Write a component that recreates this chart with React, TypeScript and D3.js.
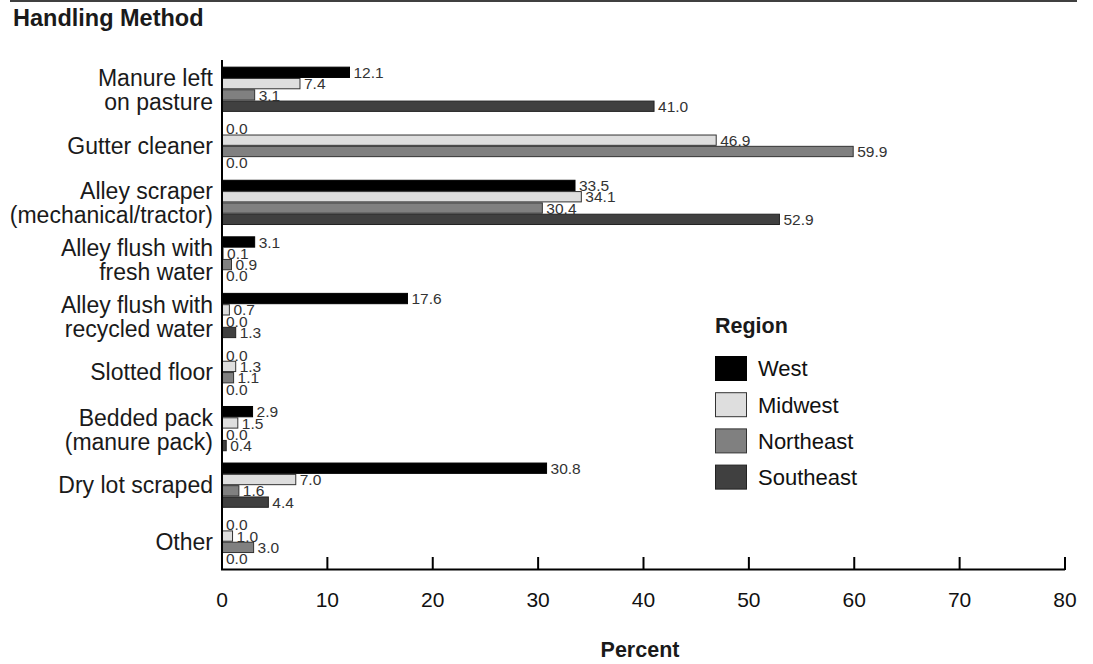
import React from "react";
import * as d3 from "d3";

const categories = [
  "Manure left\non pasture",
  "Gutter cleaner",
  "Alley scraper\n(mechanical/tractor)",
  "Alley flush with\nfresh water",
  "Alley flush with\nrecycled water",
  "Slotted floor",
  "Bedded pack\n(manure pack)",
  "Dry lot scraped",
  "Other",
];
const seriesNames = ["West", "Midwest", "Northeast", "Southeast"];
const west = [12.1, 0.0, 33.5, 3.1, 17.6, 0.0, 2.9, 30.8, 0.0];
const midwest = [7.4, 46.9, 34.1, 0.1, 0.7, 1.3, 1.5, 7.0, 1.0];
const northeast = [3.1, 59.9, 30.4, 0.9, 0.0, 1.1, 0.0, 1.6, 3.0];
const southeast = [41.0, 0.0, 52.9, 0.0, 1.3, 0.0, 0.4, 4.4, 0.0];
const xTicks = [0, 10, 20, 30, 40, 50, 60, 70, 80];
const colors = ["#000000", "#dedede", "#808080", "#404040"];
const strokes = ["#000000", "#333333", "#333333", "#222222"];

const FONT = "'Liberation Sans', Arial, Helvetica, sans-serif";

export default function App() {
  const W = 1093;
  const H = 664;
  const x = d3.scaleLinear().domain([0, 80]).range([222, 1065]);
  const y = d3
    .scaleBand<string>()
    .domain(categories)
    .range([61, 570])
    .paddingInner(0.2)
    .paddingOuter(0.1);
  const sub = d3
    .scaleBand<string>()
    .domain(seriesNames)
    .range([0, y.bandwidth()]);
  const allSeries = [west, midwest, northeast, southeast];

  return (
    <div style={{ position: "absolute", left: 0, top: 0 }}>
      <svg width={W} height={H} style={{ display: "block", background: "#fff" }} fontFamily={FONT}>
        <line x1={10} x2={1077} y1={1} y2={1} stroke="#000" strokeWidth={1.5} />
        <text x={13} y={26} fontSize={23.5} fontWeight="bold" fill="#1a1a1a">
          Handling Method
        </text>

        {/* bars */}
        {allSeries.map((vals, si) => (
          <g key={si}>
            {vals.map((v, ci) => {
              const by = (y(categories[ci]) as number) + (sub(seriesNames[si]) as number);
              const bh = sub.bandwidth();
              return (
                <rect
                  key={ci}
                  x={x(0)}
                  y={by + 0.5}
                  width={Math.max(0, x(v) - x(0))}
                  height={bh - 1}
                  fill={colors[si]}
                  stroke={strokes[si]}
                  strokeWidth={1}
                />
              );
            })}
          </g>
        ))}
        {/* value labels */}
        {allSeries.map((vals, si) => (
          <g key={"l" + si}>
            {vals.map((v, ci) => {
              const by = (y(categories[ci]) as number) + (sub(seriesNames[si]) as number);
              const bh = sub.bandwidth();
              return (
                <text
                  key={ci}
                  x={x(v) + 4}
                  y={by + bh / 2}
                  dy="0.36em"
                  fontSize={15.5}
                  fill="#333"
                >
                  {v.toFixed(1)}
                </text>
              );
            })}
          </g>
        ))}

        {/* category labels */}
        {categories.map((c) => {
          const lines = c.split("\n");
          const cy = (y(c) as number) + y.bandwidth() / 2;
          const lh = 24;
          const first = lines.length === 1 ? cy + 8 : cy - 3;
          return (
            <text key={c} x={213} textAnchor="end" fontSize={23} fill="#1a1a1a">
              {lines.map((ln, i) => (
                <tspan key={i} x={213} y={first + i * lh}>
                  {ln}
                </tspan>
              ))}
            </text>
          );
        })}

        {/* axes */}
        <line x1={x(0)} x2={x(0)} y1={60} y2={570} stroke="#000" strokeWidth={2} />
        <line x1={x(0) - 1} x2={x(80)} y1={569.5} y2={569.5} stroke="#000" strokeWidth={2} />
        {xTicks.map((t) => (
          <g key={t}>
            {t > 0 && (
              <line x1={x(t)} x2={x(t)} y1={557} y2={570} stroke="#000" strokeWidth={2} />
            )}
            <text x={x(t)} y={607} textAnchor="middle" fontSize={21} fill="#111">
              {t}
            </text>
          </g>
        ))}
        <text x={640} y={657} textAnchor="middle" fontSize={21.5} fontWeight="bold" fill="#1a1a1a">
          Percent
        </text>

        {/* legend */}
        <text x={715} y={333} fontSize={21.5} fontWeight="bold" fill="#1a1a1a">
          Region
        </text>
        {seriesNames.map((s, i) => {
          const ly = 356 + i * 36.2;
          return (
            <g key={s}>
              <rect x={715.5} y={ly + 0.5} width={31} height={24} fill={colors[i]} stroke={strokes[i]} strokeWidth={1} />
              <text x={758} y={ly + 12.5} dy="0.36em" fontSize={22} fill="#111">
                {s}
              </text>
            </g>
          );
        })}
      </svg>
    </div>
  );
}
